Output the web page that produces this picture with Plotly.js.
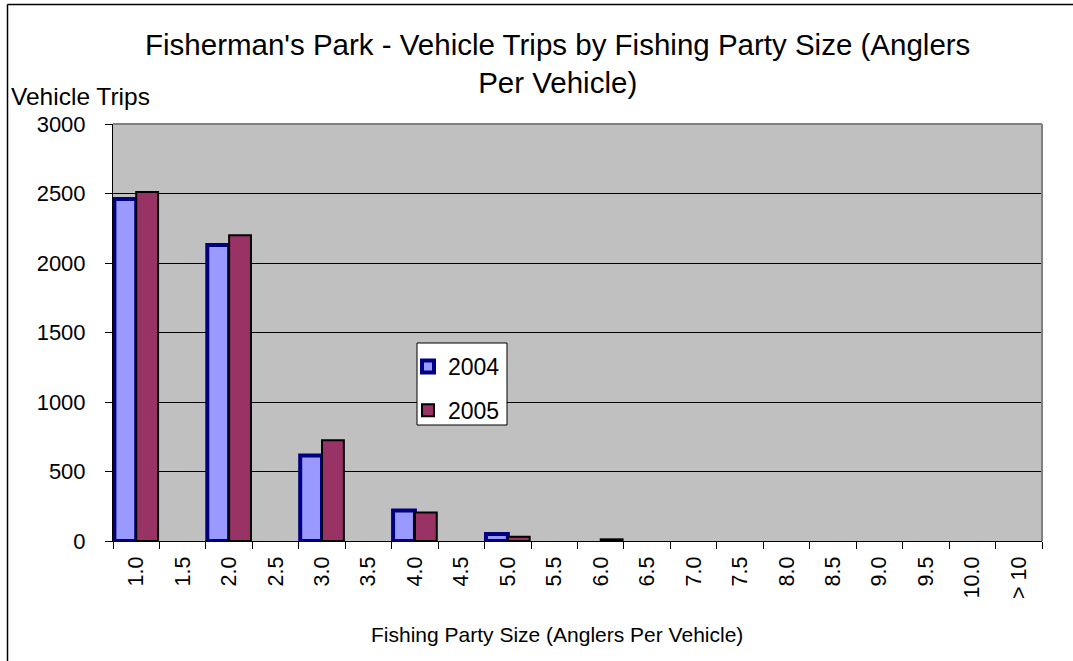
<!DOCTYPE html>
<html>
<head>
<meta charset="utf-8">
<script src="https://cdn.plot.ly/plotly-3.0.1.min.js"></script>
<style>
html,body{margin:0;padding:0;background:#fff;}
#chart{width:1073px;height:661px;}
</style>
</head>
<body>
<div id="chart"></div>
<script>
const categories = ["1.0","1.5","2.0","2.5","3.0","3.5","4.0","4.5","5.0","5.5","6.0","6.5","7.0","7.5","8.0","8.5","9.0","9.5","10.0","> 10"];
const trips2004 = [2460,0,2130,0,615,0,220,0,50,0,0,0,0,0,0,0,0,0,0,0];
const trips2005 = [2510,0,2200,0,725,0,205,0,30,0,12,0,0,0,0,0,0,0,0,0];
const yTicks = [0,500,1000,1500,2000,2500,3000];

const W = 1073, H = 661;
const L = 113, R = 31, T = 124, B = 120;
const pw = W - L - R, ph = H - T - B;
const px = x => (x - L) / pw;
const py = y => (H - B - y) / ph;

const font = {family: "Liberation Sans, Arial, sans-serif", color: "#000"};
const f = s => Object.assign({size: s}, font);
const noZero = arr => arr.map(v => (v === 0 ? null : v));

const traces = [
  {type: "bar", name: "2004", x: categories, y: noZero(trips2004), legendgroup: "a",
   marker: {color: "#9999FF", line: {color: "#000080", width: 4}}},
  {type: "bar", name: "2005", x: categories, y: noZero(trips2005), legendgroup: "b",
   marker: {color: "#993366", line: {color: "#000000", width: 2}}}
];

const layout = {
  width: W, height: H,
  margin: {l: L, r: R, t: T, b: B, pad: 0},
  paper_bgcolor: "#ffffff",
  plot_bgcolor: "#C0C0C0",
  barmode: "group",
  bargap: 0.06,
  bargroupgap: 0,
  font: f(21),
  xaxis: {
    type: "category",
    tickson: "boundaries",
    ticks: "outside", ticklen: 7, tickcolor: "#000", tickwidth: 1,
    tickangle: -90,
    tickfont: f(21.5),
    ticklabelstandoff: 6,
    showline: true, linecolor: "#000", linewidth: 1,
    showgrid: false, zeroline: false,
    fixedrange: true
  },
  yaxis: {
    range: [0, 3000],
    tickvals: yTicks,
    ticktext: yTicks.map(String),
    ticks: "outside", ticklen: 7, tickcolor: "#000", tickwidth: 1,
    tickfont: f(22),
    ticklabelstandoff: 15,
    showline: true, linecolor: "#000", linewidth: 1,
    showgrid: true, gridcolor: "#000", gridwidth: 1,
    zeroline: false,
    fixedrange: true
  },
  legend: {
    x: px(408), y: py(345), xanchor: "left", yanchor: "top",
    bgcolor: "rgba(0,0,0,0)", bordercolor: "rgba(0,0,0,0)", borderwidth: 0,
    font: f(23),
    itemwidth: 30,
    traceorder: "grouped", tracegroupgap: 11
  },
  annotations: [
    {text: "Fisherman's Park - Vehicle Trips by Fishing Party Size (Anglers<br>Per Vehicle)",
     xref: "paper", yref: "paper", x: px(557), y: py(63.5),
     xanchor: "center", yanchor: "middle", showarrow: false, font: f(29.5)},
    {text: "Vehicle Trips", xref: "paper", yref: "paper", x: px(9), y: py(97),
     xanchor: "left", yanchor: "middle", showarrow: false, font: f(24.5)},
    {text: "Fishing Party Size (Anglers Per Vehicle)", xref: "paper", yref: "paper",
     x: px(557), y: py(634), xanchor: "center", yanchor: "middle", showarrow: false,
     font: f(21)}
  ],
  shapes: [
    {type: "line", xref: "paper", yref: "paper", x0: 0, x1: 1, y0: 1, y1: 1,
     line: {color: "#808080", width: 2}, layer: "above"},
    {type: "line", xref: "paper", yref: "paper", x0: 1, x1: 1, y0: 0, y1: 1,
     line: {color: "#808080", width: 2}, layer: "above"},
    {type: "rect", xref: "paper", yref: "paper", x0: px(417), x1: px(507), y0: py(343), y1: py(425),
     line: {color: "#000", width: 1}, fillcolor: "#ffffff", layer: "above"},
    {type: "line", xref: "paper", yref: "paper", x0: px(7.5), x1: px(1080), y0: py(4.5), y1: py(4.5),
     line: {color: "#000", width: 1.5}, layer: "above"},
    {type: "line", xref: "paper", yref: "paper", x0: px(7.5), x1: px(7.5), y0: py(4.5), y1: py(680),
     line: {color: "#000", width: 1.5}, layer: "above"}
  ],
  showlegend: true
};

Plotly.newPlot("chart", traces, layout, {displayModeBar: false, staticPlot: true});
</script>
</body>
</html>
